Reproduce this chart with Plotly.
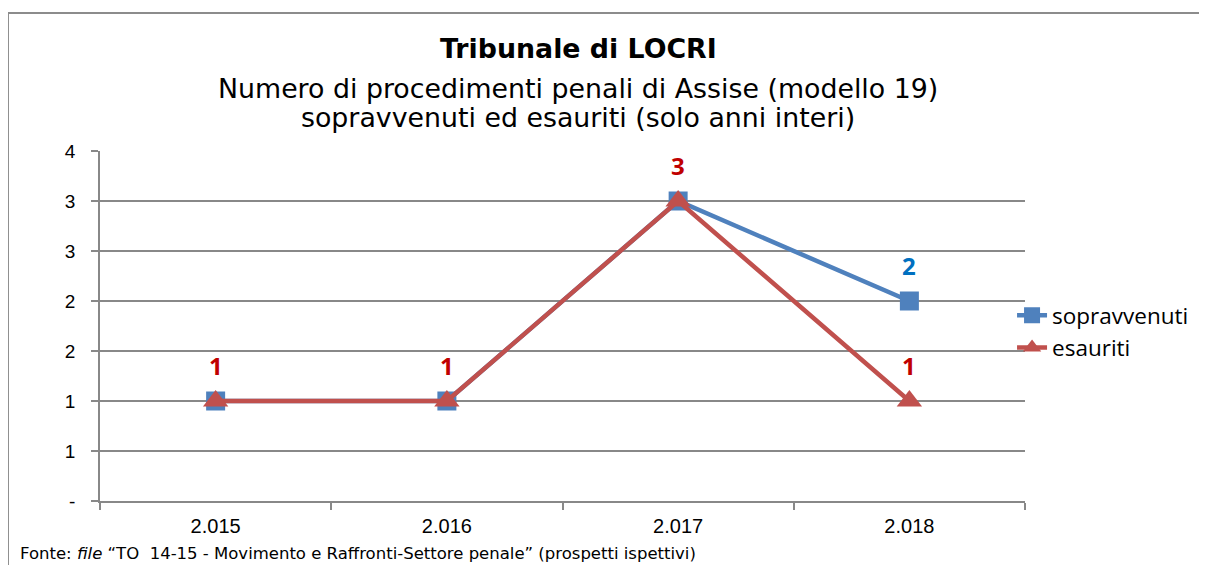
import plotly.graph_objects as go

years = ["2.015", "2.016", "2.017", "2.018"]
sopravvenuti = [1, 1, 3, 2]
esauriti = [1, 1, 3, 1]
y_tickvals = [0, 0.5, 1, 1.5, 2, 2.5, 3, 3.5]
y_ticktext = ["-", "1", "1", "2", "2", "3", "3", "4"]

BLUE = "#4F81BD"
RED = "#C0504D"
GRID = "#888888"

fig = go.Figure()
fig.add_trace(go.Scatter(
    x=years, y=sopravvenuti, name="sopravvenuti", mode="lines+markers",
    line=dict(color=BLUE, width=4.5),
    marker=dict(symbol="square", size=19, color=BLUE),
))
fig.add_trace(go.Scatter(
    x=years, y=esauriti, name="esauriti", mode="lines+markers",
    line=dict(color=RED, width=4.5),
    marker=dict(symbol="triangle-up", size=22, color=RED),
))

# data labels (x given as category index so "2.015" is not parsed as a number)
for i, (s, e) in enumerate(zip(sopravvenuti, esauriti)):
    if s != e:
        fig.add_annotation(x=i, y=s, text=f"<b>{s}</b>", showarrow=False, yshift=36,
                           font=dict(family="Open Sans", size=24, color="#0070C0"))
    fig.add_annotation(x=i, y=e, text=f"<b>{e}</b>", showarrow=False, yshift=36,
                       font=dict(family="Open Sans", size=24, color="#C00000"))

title_font = dict(family="DejaVu Sans", size=26.8, color="#000000")
fig.add_annotation(xref="paper", yref="paper", x=0.517, y=1.292, text="<b>Tribunale di LOCRI</b>",
                   showarrow=False, font=title_font, yanchor="middle")
fig.add_annotation(xref="paper", yref="paper", x=0.517, y=1.178,
                   text="Numero di procedimenti penali di Assise (modello 19)",
                   showarrow=False, font=title_font, yanchor="middle")
fig.add_annotation(xref="paper", yref="paper", x=0.517, y=1.095,
                   text="sopravvenuti ed esauriti (solo anni interi)",
                   showarrow=False, font=title_font, yanchor="middle")
fig.add_annotation(xref="paper", yref="paper", x=-0.0886, y=-0.15, xanchor="left", yanchor="middle",
                   text="Fonte: <i>file</i> \u201cTO  14-15 - Movimento e Raffronti-Settore penale\u201d (prospetti ispettivi)",
                   showarrow=False, font=dict(family="DejaVu Sans", size=16.5, color="#000000"))

# outer chart frame (only top and left edges are visible in the window)
fig.add_shape(type="line", xref="paper", yref="paper", x0=-0.0995, y0=1.394, x1=1.4, y1=1.394,
              line=dict(color="#8C8C8C", width=2), layer="below")
fig.add_shape(type="line", xref="paper", yref="paper", x0=-0.0995, y0=-0.4, x1=-0.0995, y1=1.394,
              line=dict(color="#8C8C8C", width=2), layer="below")

fig.update_layout(
    width=1199, height=557,
    margin=dict(l=92, r=182, t=143, b=64),
    paper_bgcolor="white", plot_bgcolor="white",
    showlegend=True,
    legend=dict(x=0.986, y=0.591, xanchor="left", yanchor="top",
                font=dict(family="Open Sans", size=22.5, color="#000000"),
                bgcolor="rgba(0,0,0,0)", tracegroupgap=0),
    xaxis=dict(type="category", range=[-0.5, 3.5], tickson="boundaries",
               showgrid=False, showline=True, linecolor=GRID, linewidth=1.5,
               ticks="outside", ticklen=7, tickcolor=GRID, tickwidth=1.5,
               ticklabelstandoff=6,
               tickfont=dict(family="Liberation Sans", size=20, color="#000000")),
    yaxis=dict(range=[0, 3.5], tickvals=y_tickvals, ticktext=y_ticktext,
               showgrid=True, gridcolor=GRID, gridwidth=1.5, zeroline=False,
               showline=True, linecolor=GRID, linewidth=1.5,
               ticks="outside", ticklen=7, tickcolor=GRID, tickwidth=1.5,
               ticklabelstandoff=12,
               tickfont=dict(family="Liberation Sans", size=19, color="#000000")),
)

fig.write_html("out.html")
